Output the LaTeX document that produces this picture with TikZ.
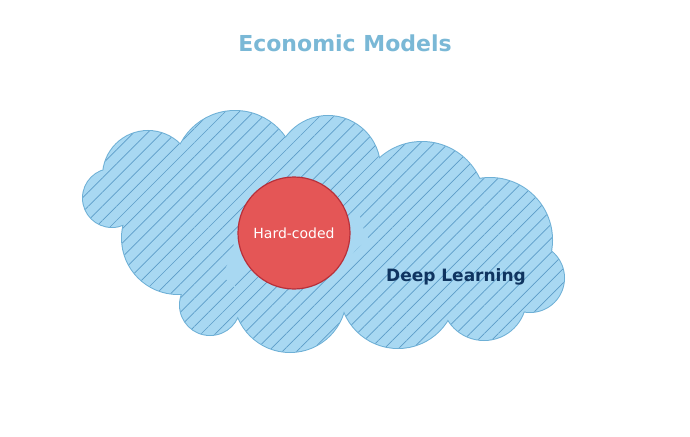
\documentclass[tikz,border=0pt]{standalone}
\usepackage{fontspec}
\setmainfont{DejaVu Sans}
\usetikzlibrary{patterns.meta}
\definecolor{cloudfill}{HTML}{A8D8F2}
\definecolor{cloudedge}{HTML}{6EB0D6}
\definecolor{hatch}{HTML}{5C9CC8}
\definecolor{titleblue}{HTML}{7AB8D6}
\definecolor{hardred}{HTML}{E45656}
\definecolor{hardedge}{HTML}{B8303A}
\definecolor{navy}{HTML}{0F3460}
\begin{document}
\begin{tikzpicture}[x=1pt,y=-1pt,
	puff/.style={
		draw=cloudedge,
		line width=2pt,
		fill=cloudfill
	},
	hardcoded/.style={
		circle,
		draw=hardedge,
		line width=1.2pt,
		fill=hardred,
		minimum size=112pt,
		inner sep=0pt,
		text=white,
		font=\fontsize{14}{16}\selectfont
	},
]
\useasboundingbox (0,0) rectangle (690,436);

\newcommand{\cloudpuffs}{(148,176) circle (45) (112,198) circle (29) (235,172) circle (61)
	(328,168) circle (52) (422,205) circle (63) (490,240) circle (62)
	(530,278) circle (34) (484,298) circle (42) (398,290) circle (58)
	(290,296) circle (56) (210,305) circle (30) (178,238) circle (56)}

%% Cloud %%
\draw[puff] \cloudpuffs;
\fill[cloudfill] \cloudpuffs;
\fill[cloudfill] (200,190) rectangle (480,300);
\fill[pattern={Lines[angle=45,distance=10pt,line width=0.7pt]},pattern color=hatch] \cloudpuffs;

%% Labels %%
\node[text=titleblue, font=\bfseries\fontsize{22}{26}\selectfont] (title) at (345,43) {Economic Models};
\node[hardcoded] (hard) at (294,233) {Hard-coded};
\node[text=navy, font=\bfseries\fontsize{17}{20}\selectfont] (deep) at (456,277) {Deep Learning};

\end{tikzpicture}
\end{document}
